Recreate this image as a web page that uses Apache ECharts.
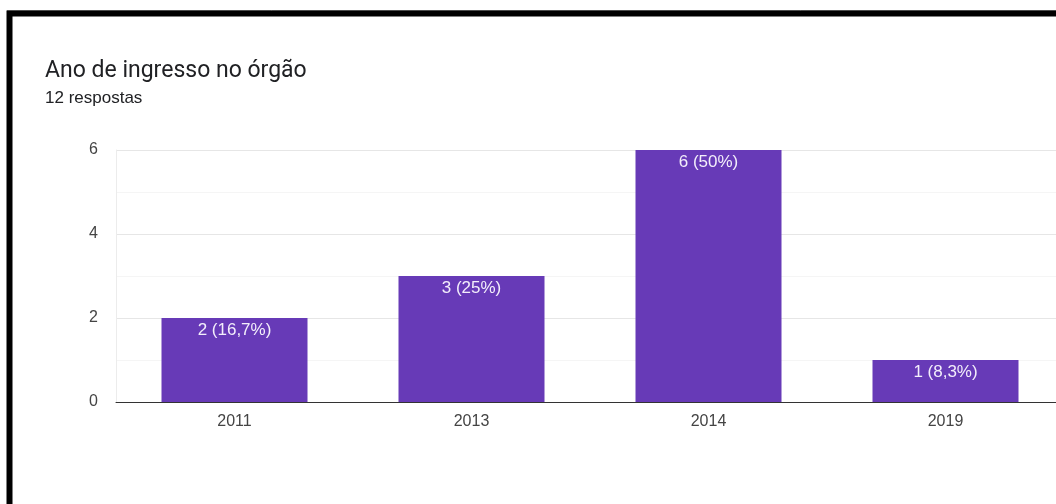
<!DOCTYPE html>
<html>
<head>
<meta charset="utf-8">
<script src="https://cdn.jsdelivr.net/npm/echarts@6/dist/echarts.min.js"></script>
<style>
html,body{margin:0;padding:0;background:#fff;overflow:hidden;}
#c{width:1064px;height:504px;}
</style>
</head>
<body>
<div id="c"></div>
<script>
var categories = ['2011', '2013', '2014', '2019'];
var counts = [2, 3, 6, 1];
var percentLabels = ['16,7%', '25%', '50%', '8,3%'];
var yTicks = [0, 2, 4, 6];

var chart = echarts.init(document.getElementById('c'), null, {renderer: 'canvas'});
chart.setOption({
  animation: false,
  backgroundColor: '#fff',
  title: [
    {text: 'Ano de ingresso no órgão', left: 40, top: 55,
     textStyle: {fontFamily: 'Roboto', fontSize: 23, fontWeight: 'normal', color: '#202124'}},
    {text: '12 respostas', left: 40, top: 85,
     textStyle: {fontFamily: 'Liberation Sans', fontSize: 17, fontWeight: 'normal', color: '#202124'}}
  ],
  graphic: [
    {type: 'line', shape: {x1: 7, y1: 10.5, x2: 1100, y2: 10.5}, style: {stroke: '#999', lineWidth: 1}},
    {type: 'rect', shape: {x: 9.5, y: 13.5, width: 1100, height: 600}, style: {fill: 'none', stroke: '#000', lineWidth: 6}}
  ],
  grid: {left: 116, top: 150, right: 0, height: 252, containLabel: false},
  xAxis: {
    type: 'category', data: categories,
    axisLine: {show: true, lineStyle: {color: '#333', width: 1}},
    axisTick: {show: false},
    axisLabel: {margin: 12, fontFamily: 'Liberation Sans', fontSize: 16, color: '#444'}
  },
  yAxis: {
    type: 'value', min: 0, max: 6, interval: 1,
    axisLine: {show: true, lineStyle: {color: '#ececec'}},
    axisTick: {show: false},
    axisLabel: {margin: 18, fontFamily: 'Liberation Sans', fontSize: 16, color: '#444',
      formatter: function (v) { return yTicks.indexOf(v) >= 0 ? String(v) : ''; }},
    splitLine: {show: true, lineStyle: {color: ['#e6e6e6', '#f5f5f5'], width: 1}}
  },
  series: [{
    type: 'bar', data: counts, barWidth: 146,
    itemStyle: {color: '#673ab7'},
    label: {show: true, position: 'insideTop', distance: 4,
      fontFamily: 'Liberation Sans', fontSize: 17, color: '#f3eefb',
      formatter: function (p) { return p.value + ' (' + percentLabels[p.dataIndex] + ')'; }}
  }]
});
</script>
</body>
</html>
